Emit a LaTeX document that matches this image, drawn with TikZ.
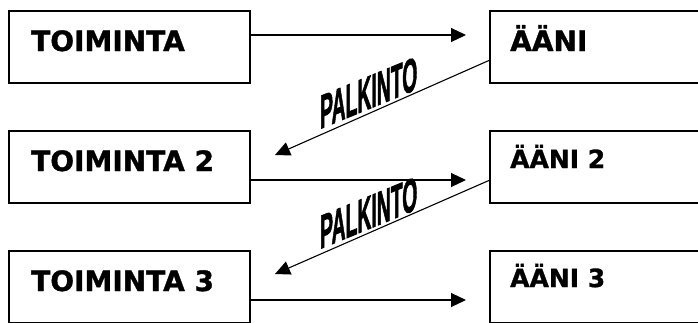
\documentclass[tikz,border=0pt]{standalone}
\usepackage{fontspec}
\setmainfont{DejaVu Sans}[BoldFeatures={FakeBold=1.2}]
\newfontfamily\pkfont{Liberation Sans}[BoldFeatures={FakeBold=2}]
\usetikzlibrary{arrows.meta,calc}
\begin{document}
\begin{tikzpicture}[x=1pt,y=-1pt,
  box/.style={draw, line width=1.4pt, rectangle, inner sep=0pt, outer sep=0pt,
    anchor=north west, minimum width=#1pt, minimum height=72pt},
  lbl/.style={anchor=base west, inner sep=0pt, font=\bfseries\fontsize{28}{30}\selectfont},
  lbls/.style={anchor=base west, inner sep=0pt, font=\bfseries\fontsize{25}{27}\selectfont},
  arr/.style={draw, line width=1.1pt, -{Triangle[length=15pt,width=14pt]}},
  pk/.style={inner sep=0pt, anchor=base west, font=\pkfont\bfseries\fontsize{38}{40}\selectfont,
    yslant=0.41, xscale=0.51, yscale=1.25, transform shape}]
\clip (0,0) rectangle (698,322);
% boxes
\node[box=241] (t1) at (9,11) {};
\node[box=241] (t2) at (9,131) {};
\node[box=241] (t3) at (9,251) {};
\node[box=220] (a1) at (490,11) {};
\node[box=220] (a2) at (490,131) {};
\node[box=220] (a3) at (490,251) {};
% labels
\node[lbl] (t1l) at ($(t1.north west)+(22,40)$) {TOIMINTA};
\node[lbl] (t2l) at ($(t2.north west)+(22,40)$) {TOIMINTA 2};
\node[lbl] (t3l) at ($(t3.north west)+(22,40)$) {TOIMINTA 3};
\node[lbl] (a1l) at ($(a1.north west)+(20,40)$) {ÄÄNI};
\node[lbls] (a2l) at ($(a2.north west)+(20,37)$) {ÄÄNI 2};
\node[lbls] (a3l) at ($(a3.north west)+(20,36)$) {ÄÄNI 3};
% forward arrows
\draw[arr] ($(t1.north east)+(0,24)$) -- ($(a1.north west)+(-24,24)$);
\draw[arr] ($(t2.north east)+(0,49)$) -- ($(a2.north west)+(-24,49)$);
\draw[arr] ($(t3.north east)+(0,49)$) -- ($(a3.north west)+(-24,49)$);
% reward arrows
\draw[arr] ($(a1.north west)+(0,49)$) -- ($(t2.north east)+(25,24)$);
\draw[arr] ($(a2.north west)+(0,49)$) -- ($(t3.north east)+(25,23)$);
% reward labels
\begin{scope}[shift={(320,129)}]
  \node[pk] (p1) at (0,0) {PALKINTO};
\end{scope}
\begin{scope}[shift={(320,249)}]
  \node[pk] (p2) at (0,0) {PALKINTO};
\end{scope}
\end{tikzpicture}
\end{document}
